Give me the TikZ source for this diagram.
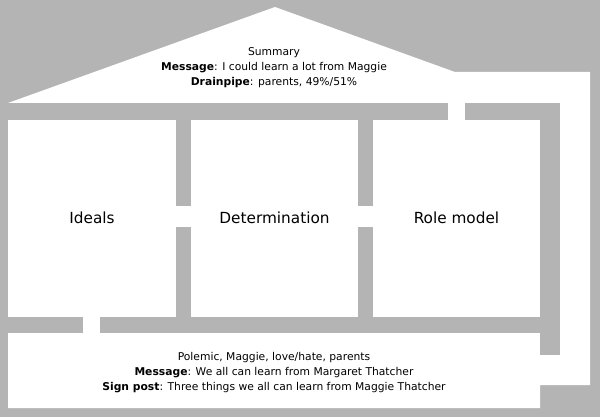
\documentclass[tikz,border=0pt]{standalone}
\usepackage{fontspec}
\setmainfont{DejaVu Sans}
\definecolor{wallgray}{HTML}{B4B4B4}
\tikzset{every picture/.style={x=1pt,y=-1pt},
  wall/.style={fill=wallgray},
  room/.style={font=\fontsize{15.3}{18}\selectfont},
  note/.style={font=\fontsize{10.75}{15}\selectfont,align=center,inner sep=0pt}}

\begin{document}
\begin{tikzpicture}
  \fill[wallgray] (0,0) rectangle (600,417);
  \useasboundingbox (0,0) rectangle (600,417);
  % house outline, drainpipe included
  \fill[white] (8,103) -- (275,7) -- (455,72) -- (590,72) -- (590,385)
    -- (540,385) -- (540,408) -- (8,408) -- cycle;
  % walls
  \fill[wall] (8,103) rectangle (448,120);
  \fill[wall] (465,103) rectangle (560,120);
  \fill[wall] (540,120) rectangle (560,355);
  \fill[wall] (8,317) rectangle (83,333);
  \fill[wall] (100,317) rectangle (540,333);
  \foreach \x in {176,358} {
    \fill[wall] (\x,120) rectangle (\x+15,206);
    \fill[wall] (\x,227) rectangle (\x+15,317);
  }
  % texts
  \node[note] (roof) at (274,68) {Summary\\
    \textbf{Message}: I could learn a lot from Maggie\\
    \textbf{Drainpipe}: parents, 49\%/51\%};
  \node[room] (ideals) at (92,218) {Ideals};
  \node[room] (determination) at (274.5,218) {Determination};
  \node[room] (rolemodel) at (456.5,218) {Role model};
  \node[note] (base) at (274,372.5) {Polemic, Maggie, love/hate, parents\\
    \textbf{Message}: We all can learn from Margaret Thatcher\\
    \textbf{Sign post}: Three things we all can learn from Maggie Thatcher};
\end{tikzpicture}
\end{document}
